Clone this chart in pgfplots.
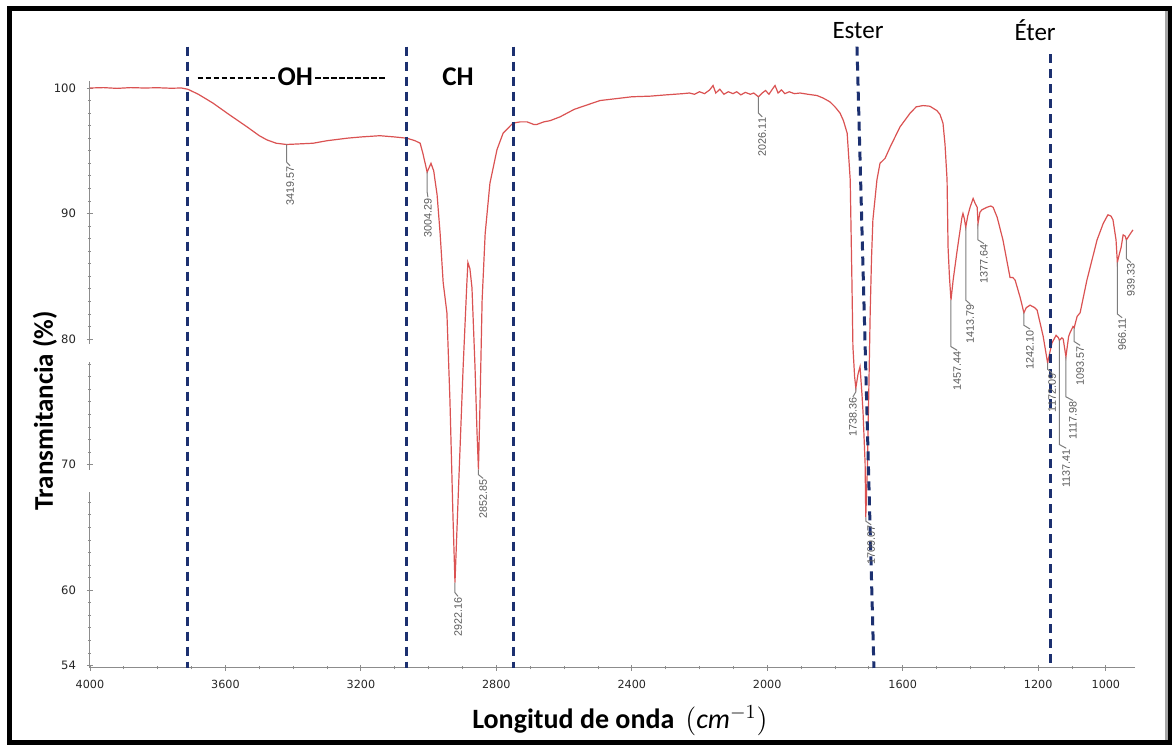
\documentclass[border=0pt]{standalone}
\usepackage{pgfplots}
\pgfplotsset{compat=1.18}
\usepackage{fontspec}
\setmainfont{Carlito}
\newfontfamily\tickfont{DejaVu Sans}
\newfontfamily\peakfont{Liberation Sans}
\definecolor{spec}{RGB}{218,82,82}
\definecolor{navy}{RGB}{28,48,112}
\definecolor{conn}{RGB}{125,125,125}
\newcommand{\hy}{\rule[3.1pt]{2.8pt}{1.3pt}\hspace{1.2pt}}
\newcommand{\pk}[6]{%
  \draw[conn, line width=0.5pt] (axis cs:#1,#2) -- (axis cs:#1,#3) -- (axis cs:#4,#5);
  \node[rotate=90, anchor=east, inner sep=0.3pt, font=\peakfont\fontsize{5.4}{6}\selectfont, text=black!65] at (axis cs:#4,#5) {#6};}
\begin{document}
\begin{tikzpicture}
\begin{axis}[
  scale only axis, width=522.5pt, height=293.5pt,
  x dir=reverse, xmin=914, xmax=4000, ymin=53.8, ymax=100.56,
  axis x line*=bottom, axis y line*=left,
  axis line style={draw=black!45, -, line width=0.5pt},
  clip=false,
  xtick={4000,3600,3200,2800,2400,2000,1600,1200,1000},
  minor xtick={1000,1100,...,4000},
  ytick={54,60,70,80,90,100},
  minor ytick={55,56,...,100},
  tick style={draw=black!45, line width=0.4pt},
  major tick length=3pt, minor tick length=1.5pt,
  tick align=center,
  /pgf/number format/1000 sep={},
  /pgf/number format/assume math mode=true,
  xticklabel style={font=\tickfont\fontsize{5.6}{7}\selectfont, text=black!85, yshift=-1pt},
  yticklabel style={font=\tickfont\fontsize{5.8}{7}\selectfont, text=black!85, xshift=-2pt},
]
\coordinate (P) at (axis cs:4000,100);
\addplot[spec, line width=0.6pt, no markers] table {
4000 100.0
3960 100.03
3920 99.97
3880 100.03
3840 100.0
3800 100.02
3760 99.98
3730 100.0
3711 99.9
3680 99.5
3637 98.8
3590 97.9
3536 96.9
3500 96.2
3477 95.86
3450 95.6
3419.57 95.5
3380 95.55
3341 95.6
3300 95.8
3241 96.0
3200 96.1
3144 96.2
3100 96.1
3064 96.0
3040 95.8
3025 95.6
3017 94.8
3004.29 93.3
2993 94.0
2985 93.4
2975 91.5
2966 88.4
2957 84.5
2946 82.1
2937 75.1
2928 65.8
2922.16 60.6
2913 67.2
2898 77.8
2887 84.5
2884 86.1
2878 85.6
2872 84.1
2863 77.8
2857 72.5
2852.85 69.6
2848 75.1
2842 83.1
2833 88.4
2819 92.4
2798 95.1
2780 96.4
2751 97.2
2730 97.3
2709 97.3
2690 97.1
2680 97.1
2660 97.3
2641 97.4
2612 97.7
2570 98.3
2494 99.0
2400 99.3
2346 99.35
2300 99.45
2249 99.55
2230 99.6
2215 99.5
2200 99.7
2185 99.55
2170 99.85
2160 100.2
2152 99.6
2140 99.9
2128 99.5
2115 99.7
2101 99.55
2090 99.7
2078 99.45
2065 99.65
2050 99.5
2040 99.6
2026.11 99.3
2015 99.6
2005 99.8
1995 99.5
1985 99.9
1977 100.2
1968 99.6
1958 99.85
1948 99.55
1935 99.7
1920 99.55
1903 99.6
1880 99.5
1853 99.4
1835 99.2
1815 98.9
1800 98.5
1785 98.0
1775 97.4
1764 96.4
1755 92.7
1750 84.7
1747 79.4
1742 77.0
1738.36 76.1
1732 77.2
1726 77.8
1720 75.5
1717 74.1
1711 70.1
1709.07 65.8
1704 70.0
1700 76.0
1696 82.1
1692 86.5
1688 89.5
1676 92.7
1667 94.0
1652 94.4
1637 95.3
1608 96.9
1578 98.0
1560 98.5
1540 98.6
1520 98.55
1499 98.2
1490 97.9
1481 97.2
1475 95.5
1469 92.7
1466 87.3
1462 85.0
1457.44 83.1
1451 84.7
1439 87.1
1425 89.7
1422 90.0
1418 89.6
1413.79 88.9
1408 89.8
1401 90.5
1392 91.2
1386 90.8
1380 90.5
1377.64 89.2
1372 90.1
1366 90.3
1351 90.5
1340 90.6
1333 90.5
1321 89.7
1304 87.9
1283 84.9
1275 84.9
1268 84.7
1253 83.3
1242.10 82.1
1235 82.5
1224 82.7
1210 82.5
1203 82.3
1185 80.2
1172.09 78.1
1165 79.0
1159 79.7
1147 80.3
1140 80.1
1137.41 79.9
1130 80.1
1126 80.0
1117.98 78.6
1110 80.2
1106 80.5
1097 81.0
1093.57 80.9
1085 81.8
1076 82.1
1056 84.7
1026 87.9
1008 89.2
994 89.9
985 89.8
979 89.5
970 87.9
966.11 86.1
960 86.8
955 87.3
949 88.3
943 88.2
939.33 87.9
930 88.3
920 88.7
};
% dashed region lines
\draw[navy, line width=1.5pt, dash pattern=on 4.5pt off 3pt] (axis cs:3711,103.3) -- (axis cs:3711,53.8);
\draw[navy, line width=1.5pt, dash pattern=on 4.5pt off 3pt] (axis cs:3064,103.3) -- (axis cs:3064,53.8);
\draw[navy, line width=1.5pt, dash pattern=on 4.5pt off 3pt] (axis cs:2748,103.3) -- (axis cs:2748,53.8);
\draw[navy, line width=1.5pt, dash pattern=on 4.5pt off 3pt] (axis cs:1735,103.3) -- (axis cs:1685,53.8);
\draw[navy, line width=1.5pt, dash pattern=on 4.5pt off 3pt] (axis cs:1165,102.7) -- (axis cs:1165,53.8);
% region labels
\node[font=\fontsize{13.5}{14}\selectfont\bfseries] at (axis cs:3406,100.9) {\hy\hy\hy\hy\hy\hy\hy\hy\hy\hy OH\hspace{1pt}\hy\hy\hy\hy\hy\hy\hy\hy\hy};
\node[font=\fontsize{13.5}{14}\selectfont\bfseries] at (axis cs:2913,100.9) {CH};
\node[font=\fontsize{12.5}{14}\selectfont] at (axis cs:1732,104.6) {Ester};
\node[font=\fontsize{12.5}{14}\selectfont] at (axis cs:1209,104.6) {Éter};
% peak labels
\pk{3419.57}{95.5}{94.1}{3409}{93.8}{3419.57}
\pk{3004.29}{93.3}{91.7}{3002}{91.3}{3004.29}
\pk{2922.16}{60.6}{59.8}{2913}{59.5}{2922.16}
\pk{2852.85}{69.6}{69.2}{2839}{68.9}{2852.85}
\pk{2026.11}{99.3}{98.0}{2015}{97.7}{2026.11}
\pk{1738.36}{76.1}{75.8}{1747}{75.4}{1738.36}
\pk{1709.07}{65.8}{65.5}{1693}{65.2}{1709.07}
\pk{1457.44}{83.1}{79.4}{1439}{79.1}{1457.44}
\pk{1413.79}{88.9}{83.1}{1401}{82.8}{1413.79}
\pk{1377.64}{89.2}{87.9}{1360}{87.6}{1377.64}
\pk{1242.10}{82.1}{81.1}{1224}{80.8}{1242.10}
\pk{1172.09}{78.1}{77.6}{1159}{77.3}{1172.09}
\pk{1137.41}{79.9}{71.6}{1117}{71.3}{1137.41}
\pk{1117.98}{78.6}{75.4}{1097}{75.1}{1117.98}
\pk{1093.57}{80.9}{79.8}{1076}{79.5}{1093.57}
\pk{966.11}{86.1}{82.0}{952}{81.7}{966.11}
\pk{939.33}{87.9}{86.4}{926}{86.1}{939.33}
% axis titles
\node[rotate=90, font=\fontsize{13.5}{15}\selectfont\bfseries] at (axis cs:4133,74.3) {Transmitancia (\%)};
\node[font=\fontsize{14}{16}\selectfont\bfseries, inner sep=1pt] at (axis cs:2435,49.6) {Longitud de onda \,$\bigl(\mathit{cm}^{-1}\bigr)$};
\end{axis}
\begin{scope}[shift={(P)}]
\begin{scope}[x=0.5pt, y=-0.5pt]
\begin{scope}[shift={(-90,-88)}]
% gaps in the y axis line
\fill[white] (87,344) rectangle (93,362);
\fill[white] (87,470) rectangle (93,492);
% frame
\draw[black!35, line width=1.5pt] (1166,10) -- (1166,741);
\draw[black, line width=2.5pt] (9.5,8.5) rectangle (1170.5,742.5);
\pgfresetboundingbox
\path[use as bounding box] (0,0) rectangle (1172,745);
\end{scope}
\end{scope}
\end{scope}
\end{tikzpicture}
\end{document}
